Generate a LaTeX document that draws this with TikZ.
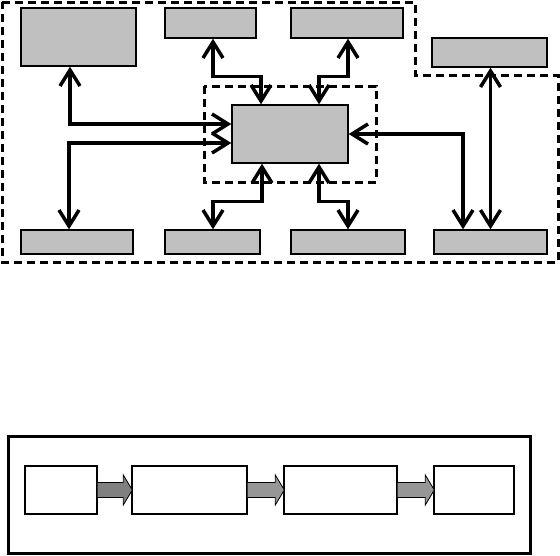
\documentclass[tikz,border=0pt]{standalone}
\usepackage{tikz}
\usetikzlibrary{calc}
\usetikzlibrary{arrows.meta}

\definecolor{boxgray}{HTML}{C0C0C0}
\definecolor{arrowdark}{HTML}{808080}
\definecolor{arrowlight}{HTML}{969696}

\begin{document}
\begin{tikzpicture}[x=1pt,y=-1pt,
        unit/.style={draw,fill=boxgray,line width=1.4pt,inner sep=0pt},
        stage/.style={draw,fill=white,line width=1.4pt,inner sep=0pt,minimum width=#1,minimum height=48pt},
        link/.style={line width=3.5pt,{Straight Barb[length=16pt,width=20pt]}-{Straight Barb[length=16pt,width=20pt]}},
        zone/.style={line width=3pt,dash pattern=on 8pt off 5pt},
        barrow/.style={draw=black,line width=0.8pt}]
        \useasboundingbox (0,0) rectangle (560,555);

        % upper part
        \node[unit,minimum width=115pt,minimum height=58pt] (TL) at (78.5,37) {};
        \node[unit,minimum width=91pt,minimum height=30pt] (T2) at (210.5,23) {};
        \node[unit,minimum width=112pt,minimum height=30pt] (T3) at (347,23) {};
        \node[unit,minimum width=115pt,minimum height=29pt] (TR) at (489.5,52.5) {};
        \node[unit,minimum width=116pt,minimum height=58pt] (C) at (290,134) {};
        \node[unit,minimum width=112pt,minimum height=24pt] (B1) at (77,242) {};
        \node[unit,minimum width=95pt,minimum height=24pt] (B2) at (212.5,242) {};
        \node[unit,minimum width=114pt,minimum height=24pt] (B3) at (348,242) {};
        \node[unit,minimum width=113pt,minimum height=24pt] (B4) at (490.5,242) {};

        \draw[zone] (2,2) -- (415,2) -- (415,75) -- (558,75) -- (558,262) -- (2,262) -- cycle;
        \draw[zone] (204,86) rectangle (376,182);

        \draw[link] ($(TL.south)+(-8.5,0)$) |- ($(C.west)+(0,-10)$);
        \draw[link] ($(B1.north)+(-8,0)$) |- ($(C.west)+(0,9)$);
        \draw[link] ($(T2.south)+(2.5,0)$) -- ++(0,38) -| ($(C.north)+(-29,0)$);
        \draw[link] ($(T3.south)+(1,0)$) -- ++(0,38) -| ($(C.north)+(29,0)$);
        \draw[link] ($(C.south)+(-28,0)$) -- ++(0,38) -| ($(B2.north)+(0.5,0)$);
        \draw[link] ($(C.south)+(29,0)$) -- ++(0,38) -| (B3.north);
        \draw[link] (C.east) -| ($(B4.north)+(-27.5,0)$);
        \draw[link] ($(TR.south)+(1,0)$) -- ($(B4.north)+(0,0)$);

        % lower part
        \draw[line width=3pt] (8,436) rectangle (530,553);
        \node[stage=72pt] (S1) at (61,490) {};
        \node[stage=115pt] (S2) at (189.5,490) {};
        \node[stage=113pt] (S3) at (340.5,490) {};
        \node[stage=80pt] (S4) at (474,490) {};

        \draw[barrow,fill=arrowdark] ($(S1.east)+(0,-7.5)$) -- ($(S2.west)+(-8,-7.5)$) -- ($(S2.west)+(-8,-15)$)
                -- ($(S2.west)+(1,0)$) -- ($(S2.west)+(-8,15)$) -- ($(S2.west)+(-8,7.5)$) -- ($(S1.east)+(0,7.5)$);
        \draw[barrow,fill=arrowlight] ($(S2.east)+(0,-7.5)$) -- ($(S3.west)+(-8,-7.5)$) -- ($(S3.west)+(-8,-15)$)
                -- ($(S3.west)+(1,0)$) -- ($(S3.west)+(-8,15)$) -- ($(S3.west)+(-8,7.5)$) -- ($(S2.east)+(0,7.5)$);
        \draw[barrow,fill=arrowlight] ($(S3.east)+(0,-7.5)$) -- ($(S4.west)+(-8,-7.5)$) -- ($(S4.west)+(-8,-15)$)
                -- ($(S4.west)+(1,0)$) -- ($(S4.west)+(-8,15)$) -- ($(S4.west)+(-8,7.5)$) -- ($(S3.east)+(0,7.5)$);
\end{tikzpicture}
\end{document}
